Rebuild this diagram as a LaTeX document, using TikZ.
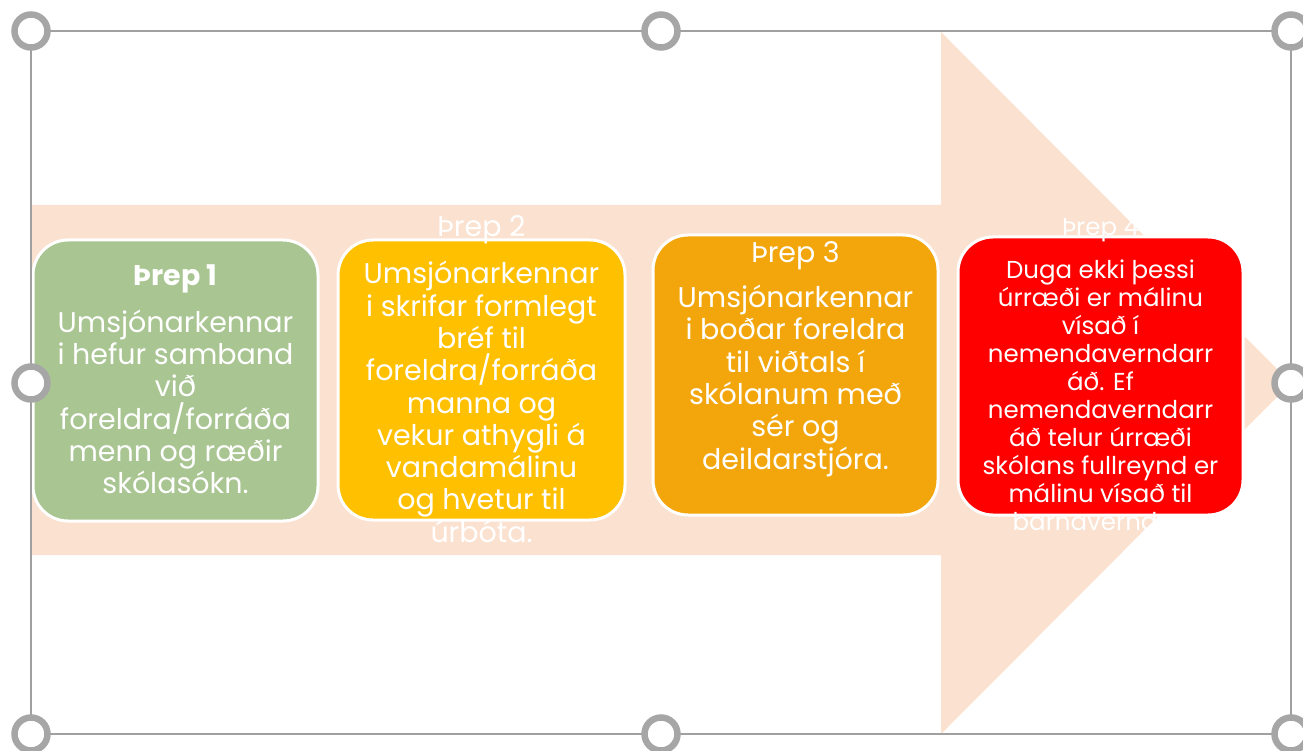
\documentclass[tikz,border=0pt]{standalone}
\usepackage{fontspec}
\setmainfont{Poppins}
\definecolor{arrowc}{RGB}{251,225,207}
\definecolor{cgreen}{RGB}{169,197,146}
\definecolor{cyellow}{RGB}{255,192,0}
\definecolor{corange}{RGB}{242,166,12}
\definecolor{cred}{RGB}{255,0,0}
\definecolor{framec}{RGB}{160,160,160}
\definecolor{handlec}{RGB}{166,166,166}
\begin{document}
\begin{tikzpicture}[x=1pt,y=-1pt,
  stepbox/.style={draw=white,line width=3pt,rounded corners=35pt,minimum width=285pt,minimum height=280pt,inner sep=0pt},
  steptext/.style={text=white,align=center,inner sep=0pt,font=\fontsize{28.5}{32.3}\selectfont},
  smalltext/.style={steptext,font=\fontsize{24.5}{28}\selectfont},
  handle/.style={circle,draw=handlec,fill=white,line width=6.5pt,minimum size=33pt,inner sep=0pt}]
\useasboundingbox (0,0) rectangle (1303,751);
% big arrow
\fill[arrowc] (31,205) -- (941,205) -- (941,32) -- (1291,383) -- (941,734) -- (941,555) -- (31,555) -- cycle;
% boxes
\node[stepbox,fill=cgreen,minimum width=285pt,minimum height=281pt] (b1) at (175.5,380.5) {};
\node[stepbox,fill=cyellow,minimum width=287pt,minimum height=280pt] (b2) at (481.5,380) {};
\node[stepbox,fill=corange,minimum width=285pt,minimum height=280pt] (b3) at (795.5,375) {};
\node[stepbox,fill=cred,minimum width=285pt,minimum height=278pt] (b4) at (1100.5,376) {};
% texts
\node[steptext] (t1) at (175.5,379.5) {\textbf{Þrep 1}\\[14pt]Umsjónarkennar\\i hefur samband\\við\\foreldra/forráða\\menn og ræðir\\skólasókn.};
\node[steptext] (t2) at (481.5,379) {Þrep 2\\[15pt]Umsjónarkennar\\i skrifar formlegt\\bréf til\\foreldra/forráða\\manna og\\vekur athygli á\\vandamálinu\\og hvetur til\\úrbóta.};
\node[steptext] (t3) at (795.5,359) {Þrep 3\\[13pt]Umsjónarkennar\\i boðar foreldra\\til viðtals í\\skólanum með\\sér og\\deildarstjóra.};
\node[smalltext] (t4) at (1100.5,374.5) {Þrep 4\\[15pt]Duga ekki þessi\\úrræði er málinu\\vísað í\\nemendaverndarr\\áð. Ef\\nemendaverndarr\\áð telur úrræði\\skólans fullreynd er\\málinu vísað til\\barnaverndar.};
% selection frame
\coordinate (hTL) at (31,31);
\coordinate (hTM) at (661,31);
\coordinate (hTR) at (1291,31);
\coordinate (hML) at (31,383);
\coordinate (hMR) at (1291,383);
\coordinate (hBL) at (31,734);
\coordinate (hBM) at (661,734);
\coordinate (hBR) at (1291,734);
\draw[framec,line width=2.5pt] (hTL) -- (hTR) -- (hBR) -- (hBL) -- cycle;
\foreach \h in {hTL,hTM,hTR,hML,hMR,hBL,hBM,hBR}
  \node[handle] (n\h) at (\h) {};
\end{tikzpicture}
\end{document}
